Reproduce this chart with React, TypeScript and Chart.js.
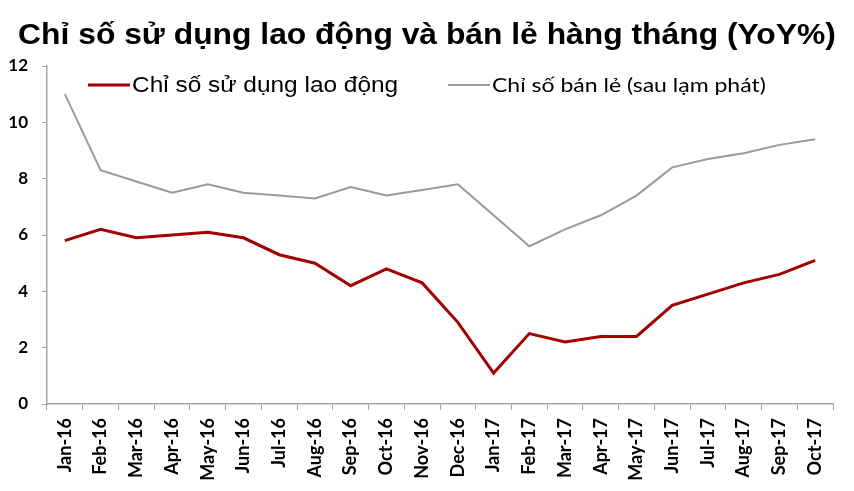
import React, { useEffect, useRef } from "react";
import { Chart, registerables } from "chart.js";

Chart.register(...registerables);

const TITLE = "Chỉ số sử dụng lao động và bán lẻ hàng tháng (YoY%)";
const CATEGORIES = [
  "Jan-16", "Feb-16", "Mar-16", "Apr-16", "May-16", "Jun-16", "Jul-16", "Aug-16",
  "Sep-16", "Oct-16", "Nov-16", "Dec-16", "Jan-17", "Feb-17", "Mar-17", "Apr-17",
  "May-17", "Jun-17", "Jul-17", "Aug-17", "Sep-17", "Oct-17",
];
const LABOR_NAME = "Chỉ số sử dụng lao động";
const LABOR = [5.8, 6.2, 5.9, 6.0, 6.1, 5.9, 5.3, 5.0, 4.2, 4.8, 4.3, 2.9, 1.1, 2.5, 2.2, 2.4, 2.4, 3.5, 3.9, 4.3, 4.6, 5.1];
const RETAIL_NAME = "Chỉ số bán lẻ (sau lạm phát)";
const RETAIL = [11.0, 8.3, 7.9, 7.5, 7.8, 7.5, 7.4, 7.3, 7.7, 7.4, 7.6, 7.8, 6.7, 5.6, 6.2, 6.7, 7.4, 8.4, 8.7, 8.9, 9.2, 9.4];
const Y_MIN = 0;
const Y_MAX = 12;
const Y_STEP = 2;

const RED = "#A30000";
const GRAY = "#9A9A9A";
const AXIS = "#A6A6A6";

function stretchedText(ctx: any, text: string, x: number, y: number, sx: number, align: string) {
  ctx.save();
  ctx.translate(x, y);
  ctx.scale(sx, 1);
  ctx.textAlign = align;
  ctx.fillText(text, 0, 0);
  ctx.restore();
}

const overlayPlugin = {
  id: "overlay",
  afterDraw(chart: any) {
    const ctx = chart.ctx;
    ctx.save();
    ctx.fillStyle = "#000";
    ctx.textBaseline = "middle";
    // title
    ctx.font = "bold 29px 'Liberation Sans', Arial, sans-serif";
    stretchedText(ctx, TITLE, 427, 36, 1.097, "center");
    // legend
    ctx.lineWidth = 3;
    ctx.strokeStyle = RED;
    ctx.beginPath();
    ctx.moveTo(88, 85);
    ctx.lineTo(130, 85);
    ctx.stroke();
    ctx.font = "22px 'Liberation Sans', Arial, sans-serif";
    stretchedText(ctx, LABOR_NAME, 132, 86, 1.11, "left");
    ctx.lineWidth = 2;
    ctx.strokeStyle = GRAY;
    ctx.beginPath();
    ctx.moveTo(448, 85);
    ctx.lineTo(490, 85);
    ctx.stroke();
    ctx.font = "20px Lato, sans-serif";
    stretchedText(ctx, RETAIL_NAME, 492, 86, 1.15, "left");
    ctx.restore();
  },
};

export default function App() {
  const ref = useRef<HTMLCanvasElement | null>(null);
  useEffect(() => {
    if (!ref.current) return;
    const chart = new Chart(ref.current, {
      type: "line",
      data: {
        labels: CATEGORIES,
        datasets: [
          {
            label: LABOR_NAME,
            data: LABOR,
            borderColor: RED,
            backgroundColor: RED,
            borderWidth: 3,
            pointRadius: 0,
            tension: 0,
          },
          {
            label: RETAIL_NAME,
            data: RETAIL,
            borderColor: GRAY,
            backgroundColor: GRAY,
            borderWidth: 2,
            pointRadius: 0,
            tension: 0,
          },
        ],
      },
      options: {
        responsive: false,
        animation: false,
        layout: { padding: { top: 66, right: 21, left: 0, bottom: 0 } },
        plugins: {
          legend: { display: false },
          title: { display: false },
          tooltip: { enabled: false },
        },
        scales: {
          x: {
            offset: true,
            grid: {
              offset: true,
              drawOnChartArea: false,
              drawTicks: true,
              tickLength: 6,
              color: AXIS,
            },
            border: { color: AXIS, width: 1.5 },
            ticks: {
              color: "#000",
              font: { family: "Lato, sans-serif", size: 18, weight: "bold" },
              minRotation: 90,
              maxRotation: 90,
              autoSkip: false,
              padding: 8,
            },
            afterFit(scale: any) {
              scale.height = 87;
            },
          },
          y: {
            min: Y_MIN,
            max: Y_MAX,
            grid: {
              drawOnChartArea: false,
              drawTicks: true,
              tickLength: 5,
              color: AXIS,
            },
            border: { color: AXIS, width: 1.5 },
            ticks: {
              stepSize: Y_STEP,
              color: "#000",
              font: { family: "Lato, sans-serif", size: 17, weight: "bold" },
              padding: 14,
            },
            afterFit(scale: any) {
              scale.width = 47;
            },
          },
        },
      },
      plugins: [overlayPlugin],
    });
    return () => chart.destroy();
  }, []);
  return (
    <div style={{ position: "fixed", left: 0, top: 0, width: 854, height: 491, background: "#fff" }}>
      <canvas ref={ref} width={854} height={491} />
    </div>
  );
}
